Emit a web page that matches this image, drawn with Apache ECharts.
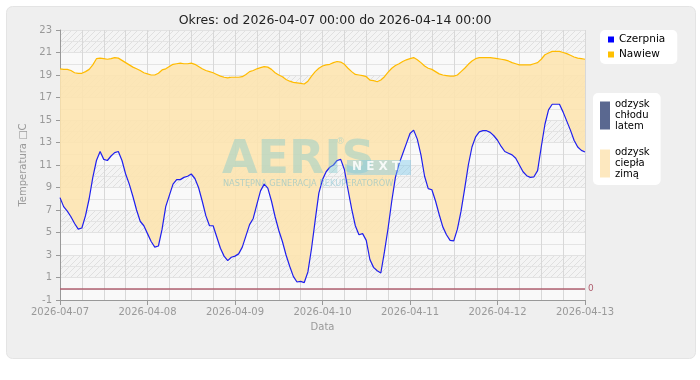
<!DOCTYPE html>
<html><head><meta charset="utf-8">
<script src="https://cdn.jsdelivr.net/npm/echarts@6/dist/echarts.min.js"></script>
<style>html,body{margin:0;padding:0;background:#fff;}#c{width:700px;height:380px;}</style>
</head><body><div id="c"></div>
<script>
// one reading per hour from 2026-04-07 00:00 to 2026-04-13 00:00
const dayLabels = ['2026-04-07','2026-04-08','2026-04-09','2026-04-10','2026-04-11','2026-04-12','2026-04-13'];
const czerpnia = [
8.1,7.3,6.9,6.4,5.8,5.3,5.4,6.5,8.0,9.9,11.4,12.2,11.5,11.4,11.8,12.1,12.2,11.4,10.2,9.3,8.2,7.0,6.0,5.6,
4.9,4.2,3.7,3.8,5.3,7.3,8.3,9.3,9.7,9.7,9.9,10.0,10.2,9.8,9.0,7.8,6.5,5.6,5.6,4.6,3.6,2.9,2.5,2.8,
2.9,3.1,3.7,4.7,5.7,6.25,7.5,8.7,9.3,8.95,7.8,6.4,5.2,4.2,3.0,2.0,1.1,0.6,0.65,0.55,1.5,3.6,
6.1,8.5,9.7,10.4,10.8,11.0,11.4,11.5,10.6,8.8,7.1,5.6,4.8,4.9,4.3,2.6,1.9,1.6,1.4,3.3,5.4,7.8,9.9,11.1,12.0,12.9,
13.8,14.1,13.3,11.9,10.0,8.9,8.8,7.8,6.6,5.5,4.8,4.3,4.25,5.3,6.9,8.9,11.0,12.6,13.5,13.95,14.05,14.05,13.9,13.6,
13.2,12.65,12.2,12.05,11.9,11.6,11.0,10.4,10.05,9.9,9.95,10.5,12.6,14.6,15.9,16.4,16.4,16.4,15.7,14.9,14.1,13.2,12.6,12.3,
12.15];
const nawiew = [
19.55,19.5,19.5,19.4,19.2,19.15,19.15,19.3,19.5,19.9,20.45,20.5,20.45,20.4,20.45,20.55,20.5,20.3,20.1,19.9,19.7,19.55,19.4,19.2,
19.1,19.0,19.0,19.15,19.45,19.55,19.75,19.95,20.0,20.05,20.0,20.0,20.05,19.95,19.75,19.55,19.4,19.3,19.2,19.05,18.9,18.8,18.75,18.8,
18.8,18.8,18.85,19.05,19.3,19.4,19.55,19.65,19.75,19.7,19.5,19.2,19.0,18.85,18.6,18.45,18.35,18.3,18.25,18.2,18.45,18.9,
19.3,19.6,19.8,19.9,19.95,20.1,20.2,20.15,19.95,19.6,19.3,19.05,19.0,18.95,18.85,18.55,18.5,18.4,18.55,18.85,19.25,19.6,19.85,20.0,20.2,20.35,
20.45,20.55,20.35,20.1,19.8,19.6,19.5,19.3,19.1,19.0,18.95,18.9,18.9,19.0,19.3,19.6,19.95,20.25,20.45,20.55,20.55,20.55,20.55,20.5,
20.45,20.4,20.35,20.25,20.1,20.0,19.9,19.9,19.9,19.9,20.0,20.1,20.4,20.8,20.95,21.1,21.1,21.1,21.0,20.9,20.75,20.6,20.5,20.45,
20.4];
const yTicks = {min:-1, max:23, step:2};

const hours = czerpnia.map((_,i)=>i);
const heatGain = nawiew.map((v,i)=>+Math.max(v-czerpnia[i],0).toFixed(3));

// hatch pattern
const pc = document.createElement('canvas'); pc.width=6; pc.height=6;
const g = pc.getContext('2d');
g.fillStyle='#f4f4f4'; g.fillRect(0,0,6,6);
g.strokeStyle='#e0e0e0'; g.lineWidth=1;
g.beginPath(); g.moveTo(-1,7); g.lineTo(7,-1); g.moveTo(-1,1); g.lineTo(1,-1); g.moveTo(5,7); g.lineTo(7,5); g.stroke();

const FONT='DejaVu Sans';
const chart = echarts.init(document.getElementById('c'), null, {renderer:'canvas'});
chart.setOption({
  animation:false,
  backgroundColor:'#fff',
  graphic:[
    {type:'rect', z:-10, shape:{x:6.5,y:6.5,width:689,height:352,r:6}, style:{fill:'#efefef',stroke:'#e4e4e4',lineWidth:1}},
    {type:'text', z:50, left:222, top:138, style:{text:'AERIS', font:'bold 46px "DejaVu Sans"', fill:'rgba(125,200,205,0.42)'}},
    {type:'text', z:50, left:336, top:137, style:{text:'®', font:'9px "DejaVu Sans"', fill:'rgba(125,200,205,0.42)'}},
    {type:'rect', z:50, shape:{x:347,y:160,width:64,height:15}, style:{fill:'rgba(120,200,235,0.42)'}},
    {type:'text', z:51, left:352, top:161, style:{text:'N E X T', font:'bold 12px "DejaVu Sans"', fill:'rgba(255,255,255,0.85)'}},
    {type:'text', z:50, left:223, top:180, style:{text:'NASTĘPNA GENERACJA REKUPERATORÓW', font:'8.2px "DejaVu Sans"', fill:'rgba(110,185,205,0.5)'}}
  ],
  title:{text:'Okres: od 2026-04-07 00:00 do 2026-04-14 00:00', left:330, textAlign:'center', top:9,
    textStyle:{fontFamily:FONT, fontSize:12.5, fontWeight:'normal', color:'#222'}},
  legend:[
    {data:[{name:'Czerpnia',itemStyle:{color:'#0000ff'}},{name:'Nawiew',itemStyle:{color:'#ffc000'}}],
     orient:'vertical', left:600, top:30, icon:'rect', itemWidth:6, itemHeight:6, itemGap:4,
     padding:[4,12,4,8], backgroundColor:'#fff', borderRadius:5,
     textStyle:{fontFamily:FONT, fontSize:10.5, color:'#000'}},
    {data:[{name:'odzysk chłodu latem',itemStyle:{color:'#5a6890'}},{name:'odzysk ciepła zimą',itemStyle:{color:'#fde8bf'}}],
     orient:'vertical', left:593, top:93, icon:'rect', itemWidth:10, itemHeight:28, itemGap:15,
     padding:[6,11,5,7], backgroundColor:'#fff', borderRadius:5,
     formatter: n => n.split(' ').join('\n'),
     textStyle:{fontFamily:FONT, fontSize:10, color:'#000', lineHeight:11}}
  ],
  grid:{left:60, right:115, top:30, bottom:80, show:true, backgroundColor:'#f9f9f9', borderWidth:0},
  xAxis:{type:'category', data:hours, boundaryGap:false,
    name:'Data', nameLocation:'middle', nameGap:22,
    nameTextStyle:{fontFamily:FONT, fontSize:10, color:'#999'},
    axisLine:{show:true, onZero:false, lineStyle:{color:'#999'}},
    axisTick:{show:true, length:5, interval:(i)=>i%24===0, lineStyle:{color:'#999'}},
    axisLabel:{fontFamily:FONT, fontSize:10, color:'#999', margin:7, interval:(i)=>i%24===0,
      formatter:(v,i)=>dayLabels[Math.round(i/24)]},
    splitLine:{show:true, interval:(i)=>i%6===0, lineStyle:{color:'#d8d8d8'}}},
  yAxis:{type:'value', min:yTicks.min, max:yTicks.max, interval:yTicks.step,
    name:'Temperatura □C', nameLocation:'middle', nameGap:20,
    nameTextStyle:{fontFamily:FONT, fontSize:10, color:'#999'},
    axisLine:{show:true, lineStyle:{color:'#999'}},
    axisTick:{show:true, length:4, lineStyle:{color:'#999'}},
    axisLabel:{fontFamily:FONT, fontSize:10, color:'#999', margin:8},
    splitLine:{show:true, lineStyle:{color:'#e2e2e2'}},
    minorTick:{show:false, splitNumber:2},
    minorSplitLine:{show:true, lineStyle:{color:'#e4e4e4'}},
    splitArea:{show:true, areaStyle:{color:['#f9f9f9',{image:pc, repeat:'repeat'}]}}},
  series:[
    {name:'base', type:'line', stack:'s', data:czerpnia, symbol:'none', silent:true,
     lineStyle:{opacity:0}, z:2},
    {name:'odzysk ciepła zimą', type:'line', stack:'s', data:heatGain, symbol:'none', silent:true,
     itemStyle:{color:'#fde8bf'}, lineStyle:{opacity:0}, areaStyle:{color:'#fde4ae', opacity:0.88}, z:2},
    {name:'odzysk chłodu latem', type:'line', data:[], symbol:'none', itemStyle:{color:'#5a6890'}},
    {name:'Nawiew', type:'line', data:nawiew, symbol:'none', itemStyle:{color:'#ffc000'},
     lineStyle:{color:'#ffbb00', width:1.2}, z:3},
    {name:'Czerpnia', type:'line', data:czerpnia, symbol:'none', itemStyle:{color:'#0000ff'},
     lineStyle:{color:'#2020ee', width:1.2}, z:4,
     markLine:{silent:true, symbol:'none', data:[{yAxis:0}],
       lineStyle:{color:'#b06070', width:1.5, type:'solid', opacity:1},
       label:{show:true, position:'end', formatter:'0', color:'#b06070', fontFamily:FONT, fontSize:9, distance:3}}}
  ]
});
</script></body></html>
